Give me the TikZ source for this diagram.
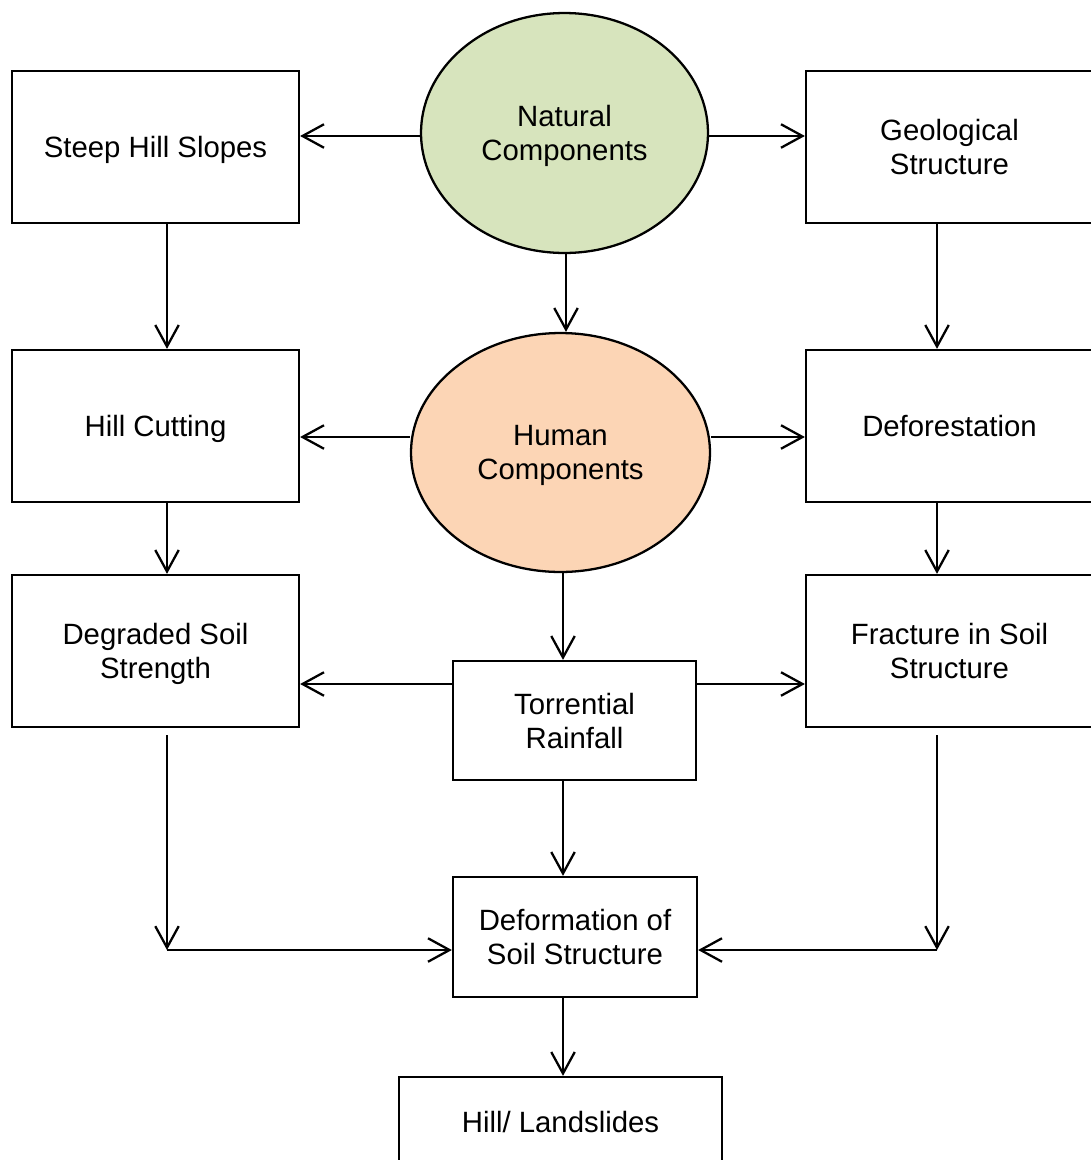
\documentclass[tikz,border=0pt]{standalone}
\usepackage{fontspec}
\setmainfont{Liberation Sans}
\usetikzlibrary{arrows.meta,shapes.geometric}
\definecolor{natgreen}{HTML}{D7E4BD}
\definecolor{humorange}{HTML}{FCD5B5}
\tikzset{
	block/.style={draw, line width=1.3pt, fill=white, minimum width=5.74cm, minimum height=3.04cm, inner sep=0pt, text depth=0pt, align=center, font=\fontsize{16.7}{19.5}\selectfont},
	oval/.style={ellipse, draw, line width=1.3pt, inner sep=0pt, text depth=0pt, align=center, font=\fontsize{16.7}{19.5}\selectfont},
	arr/.style={line width=1.3pt, -{Straight Barb[length=0.43cm, width=0.47cm]}}
}
\begin{document}
\begin{tikzpicture}[x=0.02cm, y=-0.02cm]
	\useasboundingbox (0,0) rectangle (1091,1160);
	% ovals
	\node[oval, fill=natgreen, minimum width=5.74cm, minimum height=4.8cm] (nat) at (564.5,133) {Natural\\Components};
	\node[oval, fill=humorange, minimum width=5.98cm, minimum height=4.78cm] (hum) at (560.5,452.5) {Human\\Components};
	% boxes
	\node[block] (steep) at (155.5,147) {Steep Hill Slopes};
	\node[block] (geo) at (949.5,147) {Geological\\Structure};
	\node[block] (cut) at (155.5,426) {Hill Cutting};
	\node[block] (defo) at (949.5,426) {Deforestation};
	\node[block] (soil) at (155.5,651) {Degraded Soil\\Strength};
	\node[block] (frac) at (949.5,651) {Fracture in Soil\\Structure};
	\node[block, minimum width=4.86cm, minimum height=2.38cm] (rain) at (574.5,720.5) {Torrential\\Rainfall};
	\node[block, minimum width=4.88cm, minimum height=2.4cm] (deform) at (575,937) {Deformation of\\Soil Structure};
	\node[block, minimum width=6.46cm, minimum height=1.8cm] (slide) at (560.5,1122) {Hill/ Landslides};
	% helper points
	\coordinate (r1) at (0,136);
	\coordinate (r2) at (0,437);
	\coordinate (r3) at (0,684);
	\coordinate (ct) at (566,0);
	\coordinate (cm) at (563,0);
	\coordinate (jl) at (167,950);
	\coordinate (jr) at (937,950);
	% top row
	\draw[arr] (nat.west |- r1) -- (steep.east |- r1);
	\draw[arr] (nat.east |- r1) -- (geo.west |- r1);
	\draw[arr] (nat.south -| ct) -- (hum.north -| ct);
	\draw[arr] (steep.south -| jl) -- (cut.north -| jl);
	\draw[arr] (geo.south -| jr) -- (defo.north -| jr);
	% middle row
	\draw[arr] (hum.west |- r2) -- (cut.east |- r2);
	\draw[arr] (hum.east |- r2) -- (defo.west |- r2);
	\draw[arr] (cut.south -| jl) -- (soil.north -| jl);
	\draw[arr] (defo.south -| jr) -- (frac.north -| jr);
	\draw[arr] (hum.south -| cm) -- (rain.north -| cm);
	% rainfall row
	\draw[arr] (rain.west |- r3) -- (soil.east |- r3);
	\draw[arr] (rain.east |- r3) -- (frac.west |- r3);
	\draw[arr] (rain.south -| cm) -- (deform.north -| cm);
	\draw[arr] ([yshift=-4pt]soil.south -| jl) -- (jl);
	\draw[arr] ([yshift=-4pt]frac.south -| jr) -- (jr);
	\draw[arr] (jl) -- (deform.west |- jl);
	\draw[arr] (jr) -- (deform.east |- jr);
	\draw[arr] (deform.south -| cm) -- (slide.north -| cm);
\end{tikzpicture}
\end{document}
